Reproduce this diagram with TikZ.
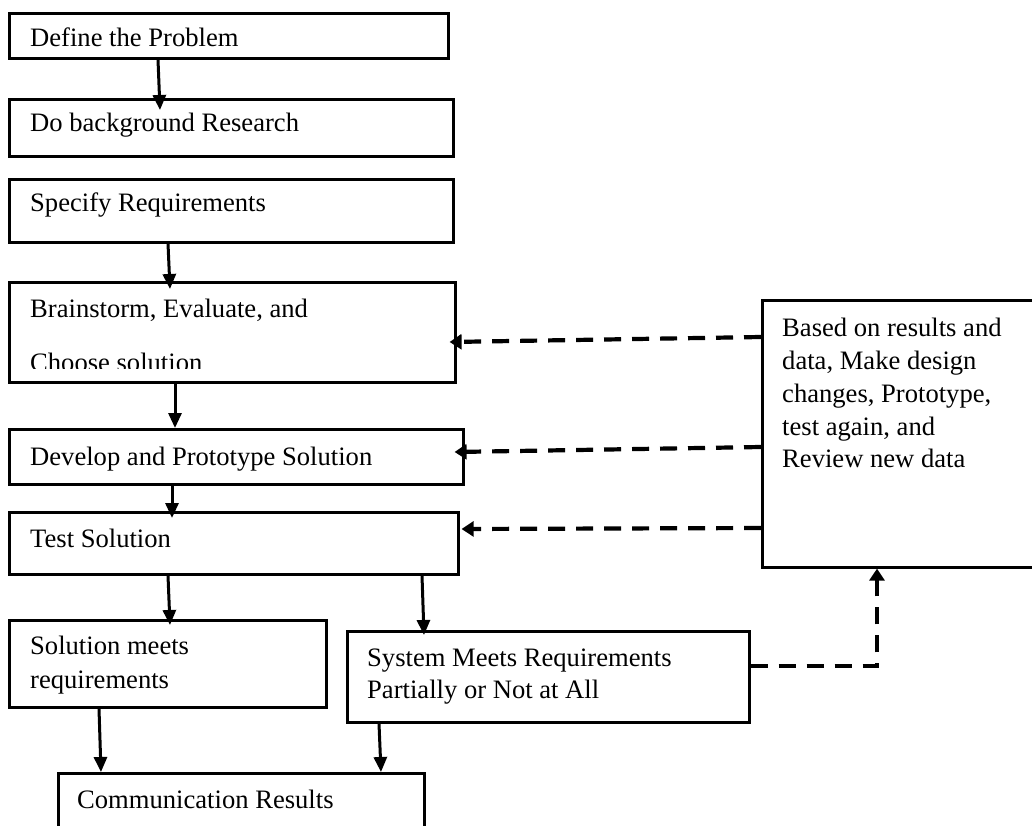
\documentclass[tikz,border=0pt]{standalone}
\usepackage{fontspec}
\setmainfont{Liberation Serif}
\usetikzlibrary{arrows.meta,calc}
\tikzset{
  box/.style={draw, line width=2.6pt, rectangle, anchor=north west, inner sep=0pt},
  txt/.style={anchor=base west, inner sep=0pt, font=\fontsize{26.6}{33}\selectfont},
  arr/.style={line width=3pt, -{Triangle[length=15pt,width=13pt]}},
  darr/.style={line width=4.2pt, dash pattern=on 17pt off 11pt, -{Triangle[length=12pt,width=15pt]}},
}
\begin{document}
\begin{tikzpicture}[x=1pt,y=-1pt]
\clip (0,0) rectangle (1032,826);
% boxes
\node[box, minimum width=439pt, minimum height=45pt] (b1) at (8,12) {};
\node[box, minimum width=444pt, minimum height=57pt] (b2) at (8,98) {};
\node[box, minimum width=444pt, minimum height=63pt] (b3) at (8,178) {};
\node[box, minimum width=446pt, minimum height=100pt] (b4) at (8,281) {};
\node[box, minimum width=454pt, minimum height=55pt] (b5) at (8,428) {};
\node[box, minimum width=449pt, minimum height=62pt] (b6) at (8,511) {};
\node[box, minimum width=317pt, minimum height=87pt] (b7) at (8,619) {};
\node[box, minimum width=402pt, minimum height=91pt] (b8) at (346,630) {};
\node[box, minimum width=366pt, minimum height=90pt] (b9) at (57,772) {};
\node[box, minimum width=300pt, minimum height=267pt] (rb) at (761,299) {};
% texts
\node[txt] (t1) at (30,47) {Define the Problem};
\node[txt] (t2) at (30,132) {Do background Research};
\node[txt] (t3) at (30,212) {Specify Requirements};
\node[txt] (t4a) at (30,317) {Brainstorm, Evaluate, and};
\begin{scope}
\clip (0,0) rectangle (460,368);
\node[txt] (t4b) at (30,371) {Choose solution};
\end{scope}
\node[txt] (t5) at (30,465) {Develop and Prototype Solution};
\node[txt] (t6) at (30,547) {Test Solution};
\node[txt] (t7a) at (30,654) {Solution meets};
\node[txt] (t7b) at (30,688) {requirements};
\node[txt] (t8a) at (367,666) {System Meets Requirements};
\node[txt] (t8b) at (367,698) {Partially or Not at All};
\node[txt] (t9) at (77,808) {Communication Results};
\node[txt] (r1) at (782,336) {Based on results and};
\node[txt] (r2) at (782,369) {data, Make design};
\node[txt] (r3) at (782,402) {changes, Prototype,};
\node[txt] (r4) at (782,435) {test again, and};
\node[txt] (r5) at (782,467) {Review new data};
% solid arrows
\draw[arr] (b1.south west -| 158,0) -- ($(b2.north west -| 160,0)+(0,12)$);
\draw[arr] (b3.south west -| 168,0) -- ($(b4.north west -| 170,0)+(0,8)$);
\draw[arr] (b4.south west -| 175,0) -- ($(b5.north west -| 175,0)+(0,0)$);
\draw[arr] (b5.south west -| 172,0) -- ($(b6.north west -| 172,0)+(0,7)$);
\draw[arr] (b6.south west -| 168,0) -- ($(b7.north west -| 170,0)+(0,6)$);
\draw[arr] (b6.south west -| 422,0) -- ($(b8.north west -| 424,0)+(0,5)$);
\draw[arr] (b7.south west -| 99,0) -- ($(b9.north west -| 101,0)+(0,0)$);
\draw[arr] (b8.south west -| 379,0) -- ($(b9.north west -| 381,0)+(0,0)$);
% dashed arrows
\draw[darr] (rb.north west |- 0,337) -- ($(b4.north east |- 0,342)+(-7,0)$);
\draw[darr] (rb.north west |- 0,447) -- ($(b5.north east |- 0,452)+(-10,0)$);
\draw[darr] (rb.north west |- 0,528) -- ($(b6.north east |- 0,529)+(2,0)$);
\draw[darr] (b8.north east |- 0,666) -- (877,666) -- (rb.south west -| 877,0);
\end{tikzpicture}
\end{document}
